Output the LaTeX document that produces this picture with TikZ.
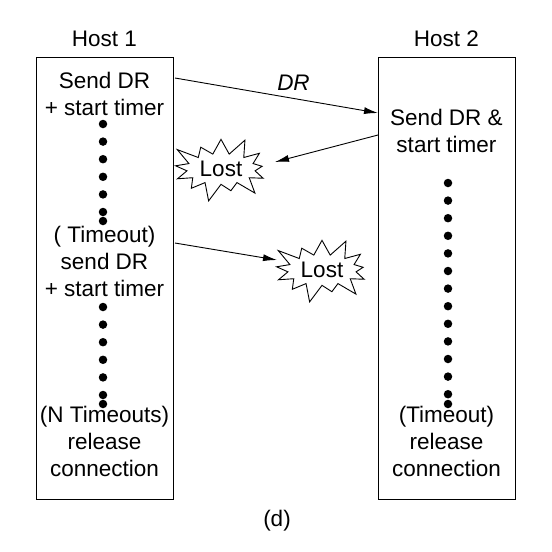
\documentclass[tikz,border=0pt]{standalone}
\usepackage{fontspec}
\setmainfont{Liberation Sans}
\usetikzlibrary{shapes.symbols, arrows.meta}

\begin{document}
\begin{tikzpicture}
  [
    x = 1pt, y = -1pt, line width = 0.9pt,
    every node/.style = {font = \fontsize{22.5}{27}\selectfont, align = center, inner sep = 0pt},
    host/.style = {draw, minimum width = 137pt, minimum height = 442pt},
    lost/.style = {draw, starburst, starburst points = 13, starburst point height = 20pt,
                   inner sep = 3pt, minimum width = 100pt, minimum height = 54pt},
    msg/.style = {-{Latex[length = 14pt, width = 7pt]}},
    dot/.style = {circle, fill, minimum size = 8.5pt}
  ]
  \useasboundingbox (0,0) rectangle (552,552);
  % the two hosts
  \node [host] (H1) at (104.5,278) {};
  \node [host] (H2) at (446.5,278) {};
  \node (H1name) at (104.5,39) {Host 1};
  \node (H2name) at (446.5,39) {Host 2};
  \node (S1) at (104.5,94) {Send DR\\+ start timer};
  \node (T1) at (104.5,261.5) {( Timeout)\\send DR\\+ start timer};
  \node (N1) at (104.5,441.5) {(N Timeouts)\\release\\connection};
  \node (S2) at (446.5,131) {Send DR \&\\start timer};
  \node (N2) at (446.5,441.5) {(Timeout)\\release\\connection};
  \node (Cap) at (277,521) {(d)};
  \node [lost] (L1) at (221,169) {Lost};
  \node [lost] (L2) at (322,270) {Lost};
  \foreach \i in {0,...,5} {
    \node [dot] (DA\i) at (103,124+17.6*\i) {};
    \node [dot] (DB\i) at (103,307+17.6*\i) {};
  }
  \node [dot] (DA6) at (103,221) {};
  \node [dot] (DB6) at (103,404) {};
  \foreach \i in {0,...,12}
    \node [dot] (DC\i) at (448,183+17.6*\i) {};
  \node [dot] (DC13) at (448,404) {};
  \coordinate (A1s) at (175,78);
  \coordinate (A1e) at (378,113);
  \coordinate (A2s) at (378,135);
  \coordinate (A2e) at (275,162);
  \coordinate (A3s) at (175,243);
  \coordinate (A3e) at (277,260);
  \draw [msg] (A1s) -- (A1e);
  \draw [msg] (A2s) -- (A2e);
  \draw [msg] (A3s) -- (A3e);
  \node [font = \fontsize{22.5}{27}\itshape] (DR) at (293.5,83) {DR};
\end{tikzpicture}
\end{document}
